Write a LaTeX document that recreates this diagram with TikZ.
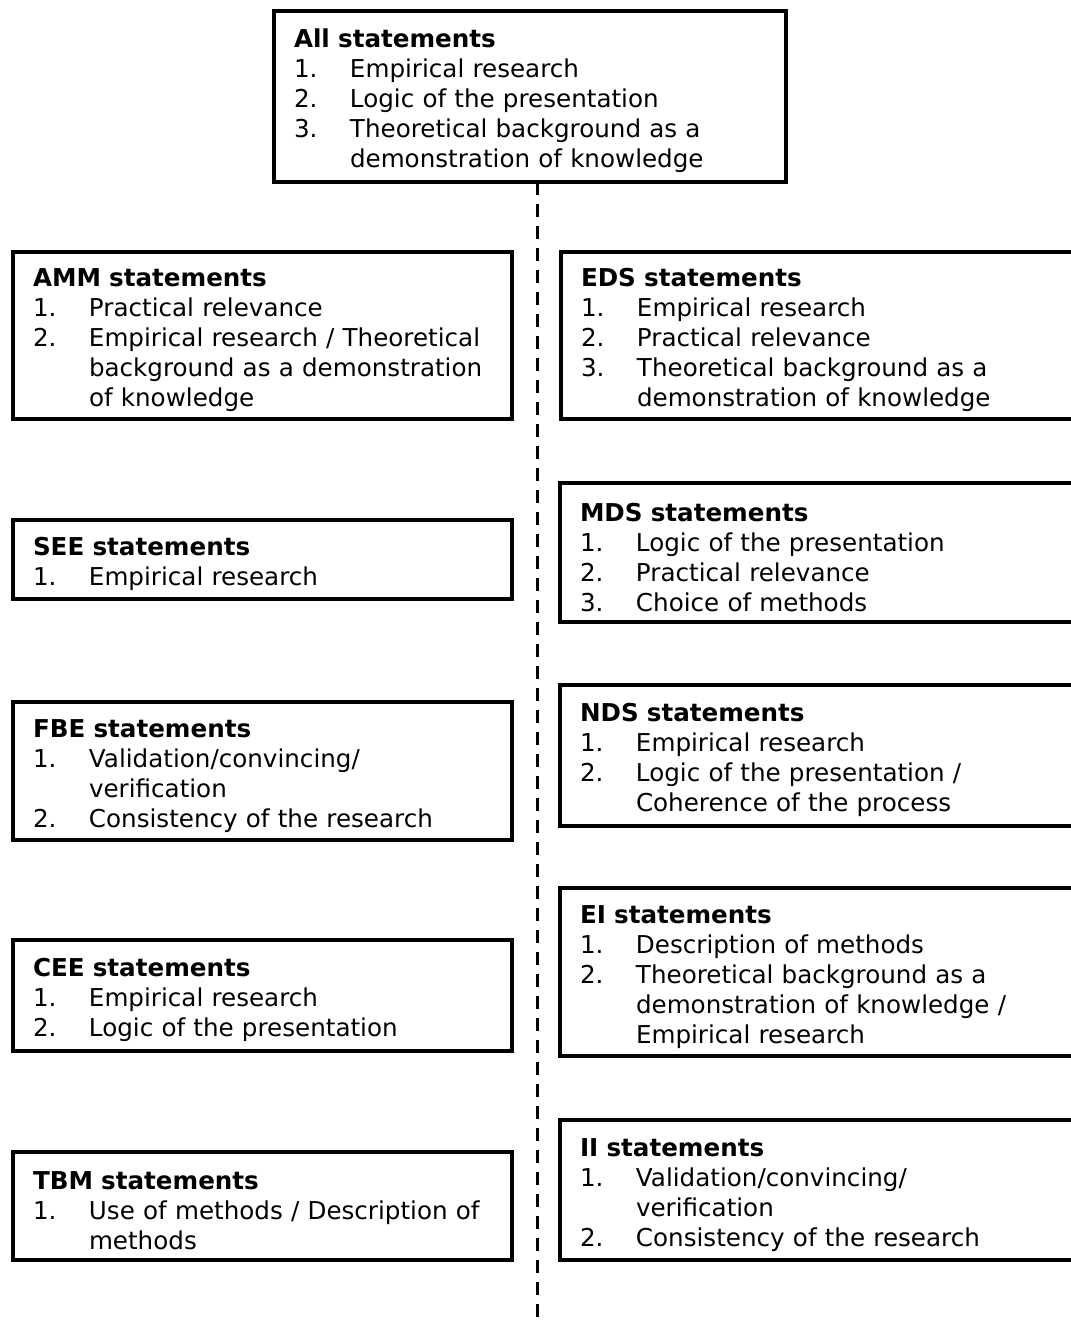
\documentclass[tikz,border=0pt]{standalone}
\usepackage{fontspec}
\setmainfont{DejaVu Sans}
\usepackage{tikz}

\newcommand{\hd}[1]{\noindent\rule{0pt}{14pt}\textbf{#1}}
\newcommand{\itm}[2]{\par\noindent\makebox[28pt][l]{#1}#2}
\newcommand{\cnt}[1]{\par\noindent\hspace*{28pt}#1}

\tikzset{
  stbox/.style={draw, line width=2pt, anchor=north west, outer sep=0pt,
    inner xsep=10pt, inner ysep=0pt, align=left, font=\fontsize{12.3}{15}\selectfont},
  lbox/.style={stbox, text width=229.5pt},
  rbox/.style={stbox, text width=245pt},
}

\begin{document}
\begin{tikzpicture}[x=0.5pt, y=-0.5pt]
        \useasboundingbox (0, 0) rectangle (1070, 1321);

        \node[stbox, text width=236pt, minimum height=85.5pt] (all) at (274, 11)
            {\hd{All statements}
             \itm{1.}{Empirical research}
             \itm{2.}{Logic of the presentation}
             \itm{3.}{Theoretical background as a}
             \cnt{demonstration of knowledge}};

        % left column
        \node[lbox, minimum height=83.5pt] (amm) at (13, 252)
            {\hd{AMM statements}
             \itm{1.}{Practical relevance}
             \itm{2.}{Empirical research / Theoretical}
             \cnt{background as a demonstration}
             \cnt{of knowledge}};
        \node[lbox, minimum height=39.5pt] (see) at (13, 520)
            {\hd{SEE statements}
             \itm{1.}{Empirical research}};
        \node[lbox, minimum height=69pt] (fbe) at (13, 702)
            {\hd{FBE statements}
             \itm{1.}{Validation/convincing/}
             \cnt{verification}
             \itm{2.}{Consistency of the research}};
        \node[lbox, minimum height=55.5pt] (cee) at (13, 940)
            {\hd{CEE statements}
             \itm{1.}{Empirical research}
             \itm{2.}{Logic of the presentation}};
        \node[lbox, minimum height=54pt] (tbm) at (13, 1152)
            {\hd{TBM statements}
             \itm{1.}{Use of methods / Description of}
             \cnt{methods}};

        % right column
        \node[rbox, minimum height=83.5pt] (eds) at (561, 252)
            {\hd{EDS statements}
             \itm{1.}{Empirical research}
             \itm{2.}{Practical relevance}
             \itm{3.}{Theoretical background as a}
             \cnt{demonstration of knowledge}};
        \node[rbox, minimum height=69.5pt] (mds) at (560, 483)
            {\hd{MDS statements}
             \itm{1.}{Logic of the presentation}
             \itm{2.}{Practical relevance}
             \itm{3.}{Choice of methods}};
        \node[rbox, minimum height=70.5pt] (nds) at (560, 685)
            {\hd{NDS statements}
             \itm{1.}{Empirical research}
             \itm{2.}{Logic of the presentation /}
             \cnt{Coherence of the process}};
        \node[rbox, minimum height=84pt] (ei) at (560, 888)
            {\hd{EI statements}
             \itm{1.}{Description of methods}
             \itm{2.}{Theoretical background as a}
             \cnt{demonstration of knowledge /}
             \cnt{Empirical research}};
        \node[rbox, minimum height=70pt] (ii) at (560, 1120)
            {\hd{II statements}
             \itm{1.}{Validation/convincing/}
             \cnt{verification}
             \itm{2.}{Consistency of the research}};

        \coordinate (end) at (537, 1321);
        \draw[line width=1.5pt, dash pattern=on 6.5pt off 4.5pt] (all.south -| end) -- (end);
    \end{tikzpicture}
\end{document}
